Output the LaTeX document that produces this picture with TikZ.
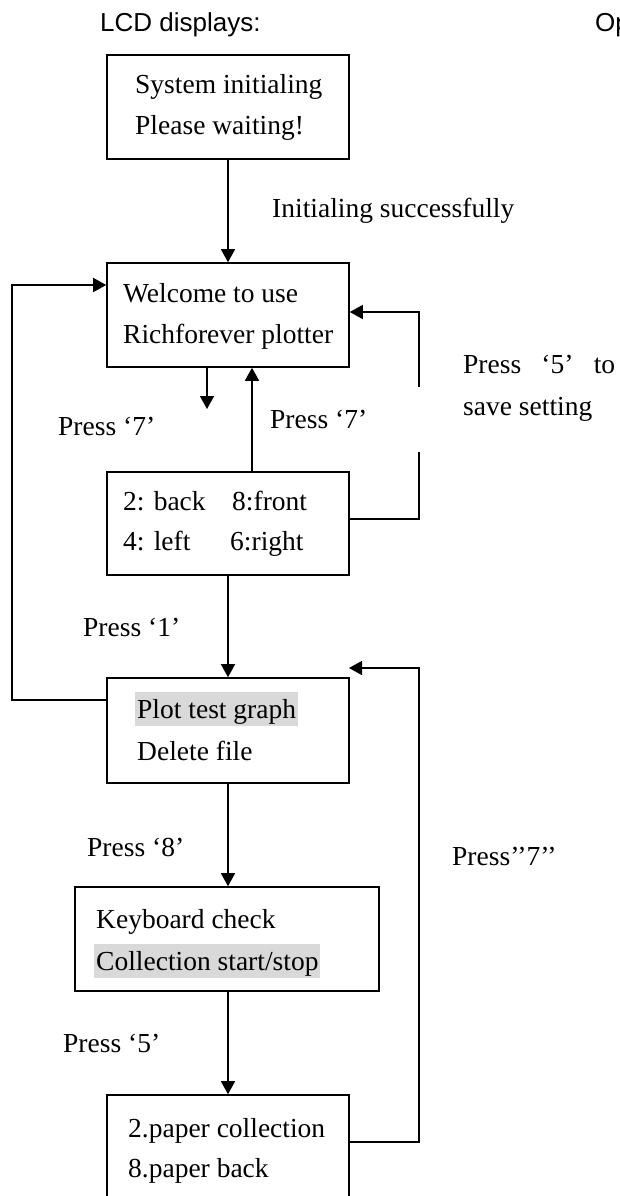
\documentclass[tikz,border=0pt]{standalone}
\usepackage{fontspec}
\setmainfont{Liberation Serif}
\newfontfamily\arialf{Liberation Sans}
\usetikzlibrary{arrows.meta}
\definecolor{hl}{HTML}{D9D9D9}
\begin{document}
\begin{tikzpicture}[x=1pt,y=-1pt,
 box/.style={draw,line width=1.6pt,minimum width=242pt,minimum height=104pt,inner sep=0pt},
 txt/.style={anchor=base west,inner sep=0pt,font=\fontsize{27.5}{33}\selectfont},
 hltxt/.style={txt,fill=hl,inner xsep=2pt,text height=26pt,text depth=8pt},
 head/.style={anchor=base west,inner sep=0pt,font=\arialf\fontsize{26}{30}\selectfont},
 arr/.style={line width=1.6pt,-{Triangle[length=13pt,width=14pt]}},
 ln/.style={line width=1.5pt}]
\useasboundingbox (0,0) rectangle (620,1196);

% headings
\node[head] (hlcd) at (100,32) {LCD displays:};
\node[head] (hop) at (595,32) {Op};

% boxes
\node[box] (b1) at (228,107) {};
\node[box] (b2) at (228,315) {};
\node[box,minimum height=103pt] (b3) at (228,523.5) {};
\node[box,minimum height=105pt] (b4) at (228,730.5) {};
\node[box,minimum width=304pt] (b5) at (227,939) {};
\node[box] (b6) at (228,1147) {};

% box texts
\node[txt] (t11) at (135,94) {System initialing};
\node[txt] (t12) at (135,135) {Please waiting!};
\node[txt] (t21) at (123,302) {Welcome to use};
\node[txt] (t22) at (123,343) {Richforever plotter};
\node[txt] (t31) at (123,510) {2: back};
\node[txt] (t32) at (232,510) {8:front};
\node[txt] (t33) at (123,550) {4: left};
\node[txt] (t34) at (230,550) {6:right};
\node[hltxt] (t41) at (135,718) {Plot test graph};
\node[txt] (t42) at (137,760) {Delete file};
\node[txt] (t51) at (96,928) {Keyboard check};
\node[hltxt] (t52) at (94,970) {Collection start/stop};
\node[txt] (t61) at (128,1137) {2.paper collection};
\node[txt] (t62) at (128,1177) {8.paper back};

% labels
\node[txt] (l1) at (272,217) {Initialing successfully};
\node[txt] (l2) at (58,435) {Press ‘7’};
\node[txt] (l3) at (270,428) {Press ‘7’};
\node[txt] (l4) at (463,373) {\makebox[152pt][s]{Press ‘5’ to}};
\node[txt] (l5) at (463,415) {save setting};
\node[txt] (l6) at (83,636) {Press ‘1’};
\node[txt] (l7) at (87,856) {Press ‘8’};
\node[txt] (l8) at (452,865) {Press’’7’’};
\node[txt] (l9) at (63,1052) {Press ‘5’};

% coordinates
\coordinate (lb) at (12,700);
\coordinate (lt) at (12,285);
\coordinate (r1b) at (419,519);
\coordinate (r1t) at (419,312);
\coordinate (d7) at (207,409);
\coordinate (u7) at (252,420);
\coordinate (r2b) at (419,1142);
\coordinate (r2t) at (419,668);
\coordinate (r2e) at (349,668);

% connectors
\draw[arr] (b1.south) -- (b2.north);
\draw[arr] (b4.west |- lb) -- (lb) -- (lt) -- (b2.west |- lt);
\draw[arr,line width=1.5pt] (b3.east |- r1b) -- (r1b) -- (r1t) -- (b2.east |- r1t);
\fill[white] (414,387) rectangle (424,452);
\draw[arr] (b2.south -| d7) -- (d7);
\draw[arr] (b3.north -| u7) -- (b2.south -| u7);
\draw[arr] (b3.south) -- (b4.north);
\draw[arr] (b4.south) -- (b4.south |- b5.north);
\draw[arr] (b4.south |- b5.south) -- (b6.north);
\draw[arr,line width=1.5pt] (b6.east |- r2b) -- (r2b) -- (r2t) -- (r2e);
\end{tikzpicture}
\end{document}
